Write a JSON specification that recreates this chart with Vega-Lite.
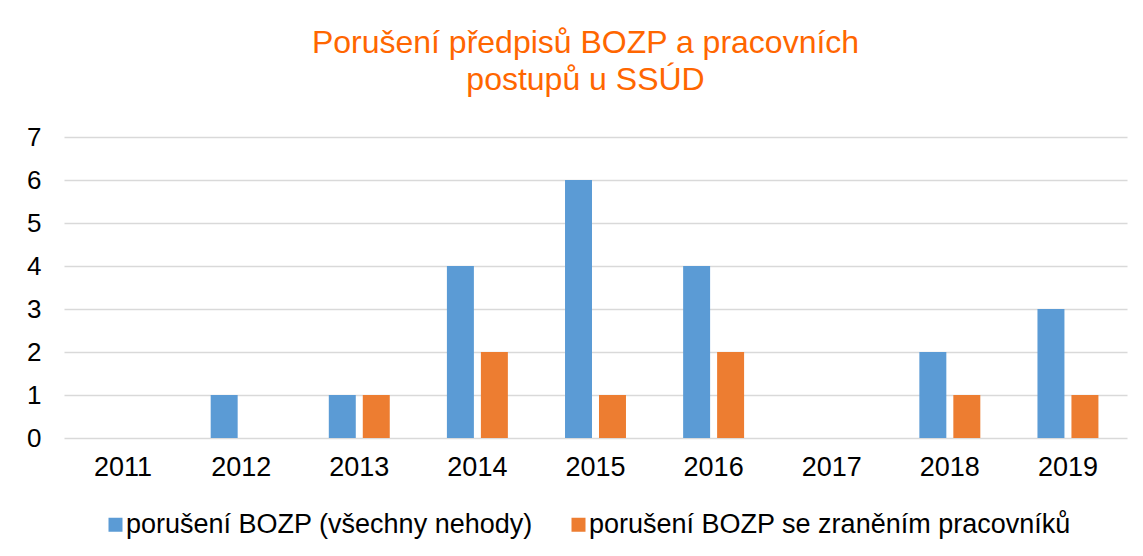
{
  "$schema": "https://vega.github.io/schema/vega-lite/v6.json",
  "width": 1063,
  "height": 301,
  "autosize": "none",
  "padding": {"left": 64, "top": 137, "right": 16, "bottom": 118},
  "background": "white",
  "title": {
    "text": ["Porušení předpisů BOZP a pracovních", "postupů u SSÚD"],
    "fontSize": 32,
    "font": "Liberation Sans",
    "fontWeight": "normal",
    "color": "#ff6600",
    "lineHeight": 37,
    "anchor": "middle",
    "offset": 27,
    "dx": -10
  },
  "data": {
    "values": [
      {"year": "2011", "series": "porušení BOZP (všechny nehody)", "value": 0},
      {"year": "2011", "series": "porušení BOZP se zraněním pracovníků", "value": 0},
      {"year": "2012", "series": "porušení BOZP (všechny nehody)", "value": 1},
      {"year": "2012", "series": "porušení BOZP se zraněním pracovníků", "value": 0},
      {"year": "2013", "series": "porušení BOZP (všechny nehody)", "value": 1},
      {"year": "2013", "series": "porušení BOZP se zraněním pracovníků", "value": 1},
      {"year": "2014", "series": "porušení BOZP (všechny nehody)", "value": 4},
      {"year": "2014", "series": "porušení BOZP se zraněním pracovníků", "value": 2},
      {"year": "2015", "series": "porušení BOZP (všechny nehody)", "value": 6},
      {"year": "2015", "series": "porušení BOZP se zraněním pracovníků", "value": 1},
      {"year": "2016", "series": "porušení BOZP (všechny nehody)", "value": 4},
      {"year": "2016", "series": "porušení BOZP se zraněním pracovníků", "value": 2},
      {"year": "2017", "series": "porušení BOZP (všechny nehody)", "value": 0},
      {"year": "2017", "series": "porušení BOZP se zraněním pracovníků", "value": 0},
      {"year": "2018", "series": "porušení BOZP (všechny nehody)", "value": 2},
      {"year": "2018", "series": "porušení BOZP se zraněním pracovníků", "value": 1},
      {"year": "2019", "series": "porušení BOZP (všechny nehody)", "value": 3},
      {"year": "2019", "series": "porušení BOZP se zraněním pracovníků", "value": 1}
    ]
  },
  "mark": {"type": "bar"},
  "encoding": {
    "x": {
      "field": "year",
      "type": "nominal",
      "scale": {"paddingInner": 0, "paddingOuter": 0},
      "axis": {
        "title": null,
        "labelAngle": 0,
        "labelFont": "Liberation Sans",
        "labelFontSize": 27,
        "labelColor": "#000000",
        "labelPadding": 16,
        "ticks": false,
        "tickSize": 0,
        "domain": false,
        "grid": false
      }
    },
    "xOffset": {
      "field": "series",
      "type": "nominal",
      "sort": ["porušení BOZP (všechny nehody)", "porušení BOZP se zraněním pracovníků"],
      "scale": {"paddingInner": 0.206, "paddingOuter": 0.841}
    },
    "y": {
      "field": "value",
      "type": "quantitative",
      "scale": {"domain": [0, 7], "nice": false},
      "axis": {
        "title": null,
        "values": [0, 1, 2, 3, 4, 5, 6, 7],
        "labelFont": "Liberation Sans",
        "labelFontSize": 26,
        "labelColor": "#000000",
        "labelPadding": 23,
        "ticks": false,
        "tickSize": 0,
        "domain": false,
        "grid": true,
        "gridColor": "#d9d9d9",
        "gridWidth": 1.5
      }
    },
    "color": {
      "field": "series",
      "type": "nominal",
      "sort": ["porušení BOZP (všechny nehody)", "porušení BOZP se zraněním pracovníků"],
      "scale": {"range": ["#5b9bd5", "#ed7d31"]},
      "legend": {
        "title": null,
        "orient": "none",
        "direction": "horizontal",
        "columns": 2,
        "legendX": 38,
        "legendY": 374,
        "padding": 0,
        "columnPadding": 32,
        "symbolType": "square",
        "symbolSize": 196,
        "symbolStrokeWidth": 0,
        "symbolOpacity": 1,
        "labelOffset": -3,
        "labelFont": "Liberation Sans",
        "labelFontSize": 27,
        "labelColor": "#000000",
        "labelLimit": 0
      }
    }
  },
  "config": {
    "view": {"stroke": null}
  }
}
